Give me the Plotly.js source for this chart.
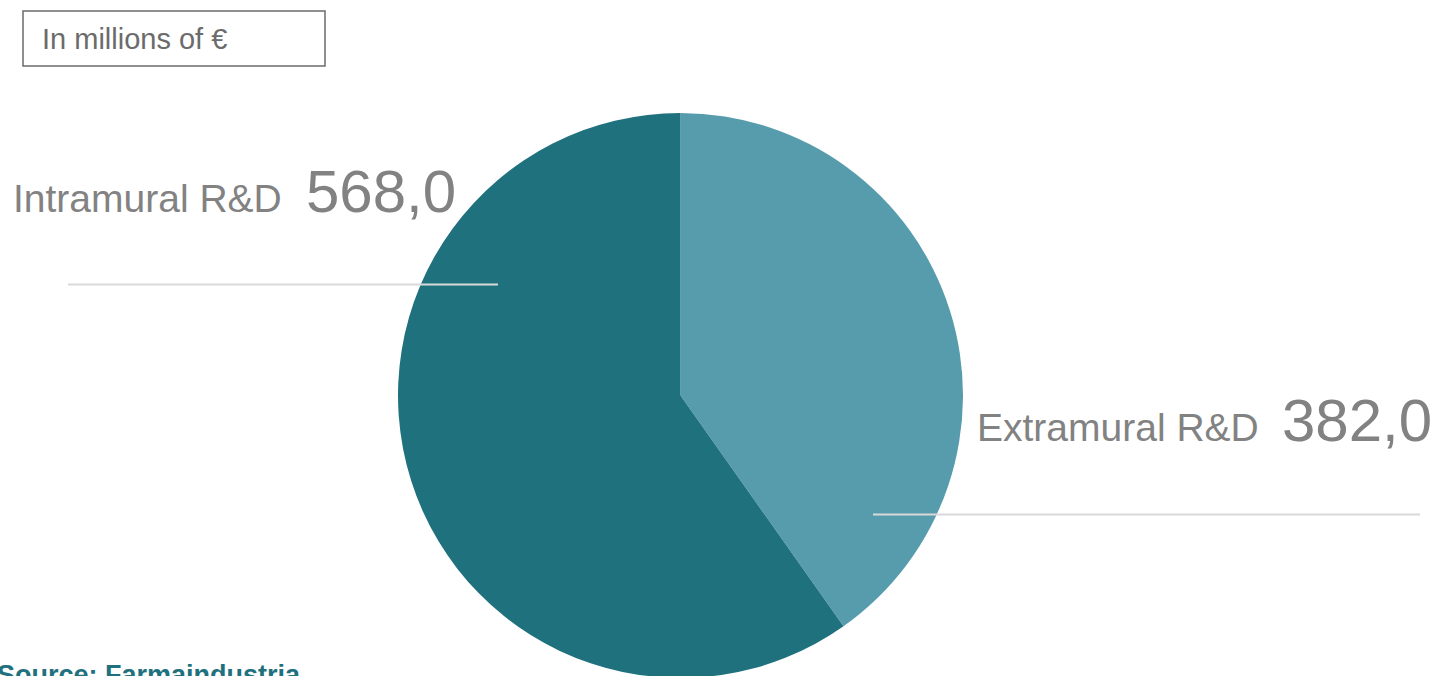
<!DOCTYPE html>
<html><head><meta charset="utf-8">
<script src="https://cdn.plot.ly/plotly-3.0.1.min.js"></script>
<style>html,body{margin:0;padding:0;overflow:hidden;background:#fff}</style>
</head><body>
<div id="chart" style="width:1437px;height:700px"></div>
<script>
// ---- data ----
const categories = ["Extramural R&D", "Intramural R&D"];
const values = [382.0, 568.0];
const sliceColors = ["#579CAD", "#1F717E"];
const unitNote = "In millions of €";
const sourceNote = "Source: Farmaindustria";

// ---- layout helpers (pixel -> paper) ----
const W = 1437, H = 700;
const fx = x => x / W;
const fy = y => 1 - y / H;
const baseY = (base, fs) => fy(base + 0.212 * fs + 1);
const fmt = v => v.toFixed(1).replace('.', ',');

const FONT = '"Liberation Sans", Arial, Helvetica, sans-serif';
const GREY = '#828282';

// label placement: [labelX, numberX, baseline] per category
const labelPos = {
  "Extramural R&D": [975, 1280, 442],
  "Intramural R&D": [11, 304, 213]
};

const annotations = [];
categories.forEach((c, i) => {
  const [lx, nx, b] = labelPos[c];
  annotations.push({xref:'paper', yref:'paper', x: fx(lx), y: baseY(b, 39), xanchor:'left', yanchor:'bottom',
    text: c, showarrow:false, font:{family:FONT, size:39, color:GREY}});
  annotations.push({xref:'paper', yref:'paper', x: fx(nx), y: baseY(b, 60), xanchor:'left', yanchor:'bottom',
    text: fmt(values[i]), showarrow:false, font:{family:FONT, size:60, color:GREY}});
});
annotations.push({xref:'paper', yref:'paper', x: fx(40), y: baseY(50, 29), xanchor:'left', yanchor:'bottom',
  text: unitNote, showarrow:false, font:{family:FONT, size:29, color:'#6b6b6b'}});
annotations.push({xref:'paper', yref:'paper', x: fx(-5), y: baseY(685, 27), xanchor:'left', yanchor:'bottom',
  text: '<b>' + sourceNote + '</b>', showarrow:false, font:{family:FONT, size:27, color:'#1F717E'}});

const shapes = [
  {type:'rect', xref:'paper', yref:'paper', x0: fx(23), x1: fx(325), y0: fy(66), y1: fy(11),
   line:{color:'#6b6b6b', width:1.5}, fillcolor:'rgba(0,0,0,0)'},
  {type:'line', xref:'paper', yref:'paper', x0: fx(68), x1: fx(498), y0: fy(284.5), y1: fy(284.5),
   line:{color:'#d9d9d9', width:2}},
  {type:'line', xref:'paper', yref:'paper', x0: fx(873), x1: fx(1420), y0: fy(514.5), y1: fy(514.5),
   line:{color:'#d9d9d9', width:2}}
];

const trace = {
  type:'pie',
  labels: categories,
  values: values,
  sort:false,
  direction:'clockwise',
  rotation:0,
  textinfo:'none',
  hoverinfo:'label+value',
  marker:{colors: sliceColors, line:{width:0}},
  domain:{x:[fx(398), fx(963)], y:[fy(678), fy(113)]}
};

const layout = {
  width: W, height: H,
  margin:{l:0, r:0, t:0, b:0},
  paper_bgcolor:'#fff', plot_bgcolor:'#fff',
  showlegend:false,
  annotations, shapes
};

Plotly.newPlot('chart', [trace], layout, {displayModeBar:false, staticPlot:true});
</script>
</body></html>
